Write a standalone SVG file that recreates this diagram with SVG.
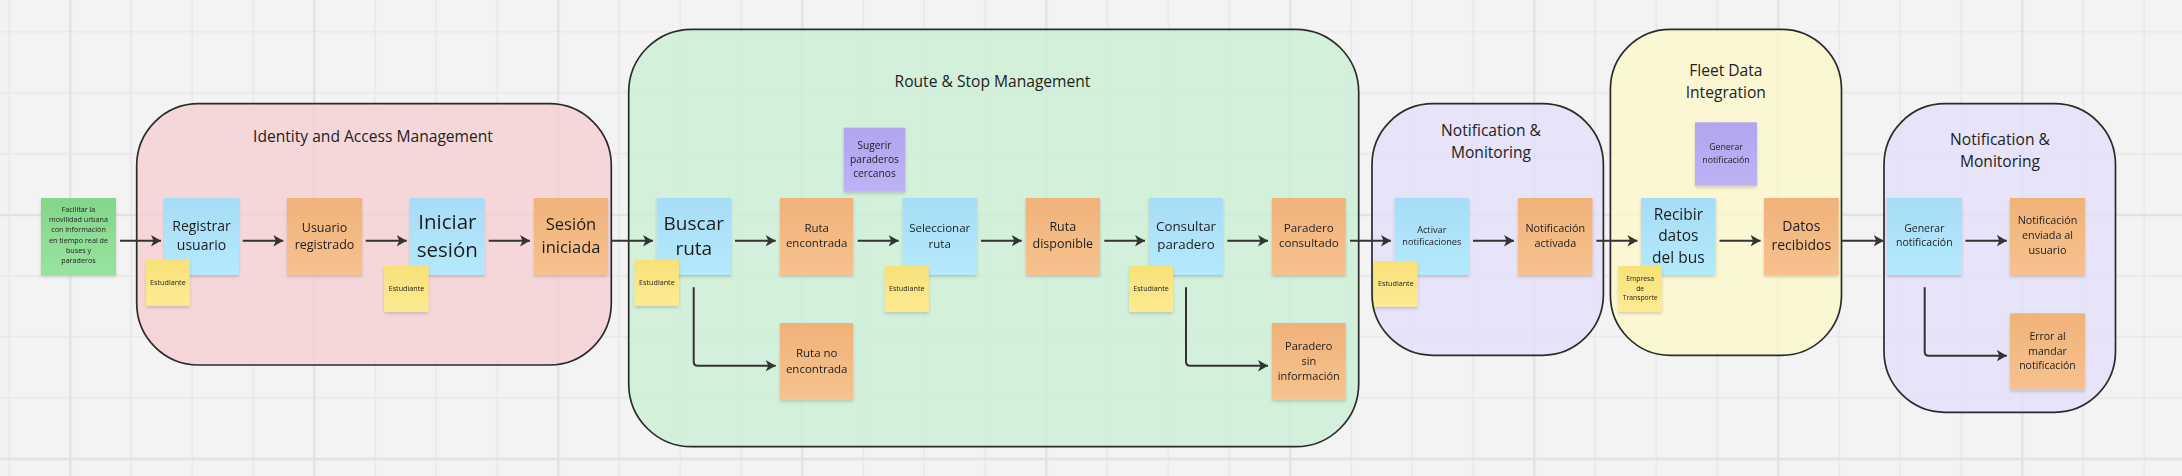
<svg xmlns="http://www.w3.org/2000/svg" width="2182" height="476" viewBox="0 0 2182 476">
<style>
text{font-family:"Open Sans","Noto Sans","Liberation Sans",sans-serif;fill:#1e1e1e;text-anchor:middle}
.ct{font-size:15.6px;fill:#222}
.box{stroke:#2b2b2b;stroke-width:1.7}
.st{filter:url(#sh)}
.cn{fill:none;stroke:#333;stroke-width:2;marker-end:url(#ah)}
.est{font-size:7.2px}
</style>
<defs>
<pattern id="gmin" x="-21.2" y="1.2" width="61" height="61" patternUnits="userSpaceOnUse"><path d="M30.5,0 V61 M0,30.5 H61" stroke="#e7e7e7" stroke-width="1.5" fill="none"/></pattern>
<pattern id="gmaj" x="-51.7" y="93" width="244" height="244" patternUnits="userSpaceOnUse"><path d="M122,0 V244 M0,122 H244" stroke="#e2e2e2" stroke-width="2.4" fill="none"/></pattern>
<linearGradient id="gb" x1="0" y1="0" x2="0" y2="1"><stop offset="0" stop-color="#a6dcf6"/><stop offset="1" stop-color="#b5e9fc"/></linearGradient>
<linearGradient id="go" x1="0" y1="0" x2="0" y2="1"><stop offset="0" stop-color="#f0b279"/><stop offset="1" stop-color="#f6c28f"/></linearGradient>
<linearGradient id="gy" x1="0" y1="0" x2="0" y2="1"><stop offset="0" stop-color="#f8e177"/><stop offset="1" stop-color="#fdeb93"/></linearGradient>
<linearGradient id="gg" x1="0" y1="0" x2="0" y2="1"><stop offset="0" stop-color="#83d689"/><stop offset="1" stop-color="#99e2a1"/></linearGradient>
<linearGradient id="gp" x1="0" y1="0" x2="0" y2="1"><stop offset="0" stop-color="#b1a5ef"/><stop offset="1" stop-color="#bcb3f6"/></linearGradient>
<filter id="sh" x="-20%" y="-20%" width="140%" height="150%"><feDropShadow dx="0" dy="2" stdDeviation="1.6" flood-color="#000" flood-opacity="0.16"/></filter>
<marker id="ah" markerUnits="userSpaceOnUse" markerWidth="12" markerHeight="12" refX="10" refY="6" orient="auto"><path d="M0,0.3 L10,6 L0,11.7 L2.6,6 z" fill="#333"/></marker>
</defs>
<rect width="2182" height="476" fill="#f3f3f3"/>
<rect width="2182" height="476" fill="url(#gmin)"/>
<rect width="2182" height="476" fill="url(#gmaj)"/>

<g id="containers">
<g id="c-identity">
<rect class="box" x="136.7" y="103.7" width="474.6" height="261.3" rx="62" fill="#f6d0d2" fill-opacity="0.8"/>
<text class="ct" x="373" y="141.5">Identity and Access Management</text>
</g>
<g id="c-route">
<rect class="box" x="628.7" y="29.3" width="730" height="417.4" rx="63" fill="#cbefd4" fill-opacity="0.8"/>
<text class="ct" x="992.5" y="86.5">Route &amp; Stop Management</text>
</g>
<g id="c-notif1">
<rect class="box" x="1372" y="103.7" width="231.4" height="251.6" rx="61" fill="#e3dff9" fill-opacity="0.8"/>
<text class="ct" x="1491"><tspan x="1491" y="135.7">Notification &amp;</tspan><tspan x="1491" y="157.7">Monitoring</tspan></text>
</g>
<g id="c-fleet">
<rect class="box" x="1610.4" y="29.3" width="231.1" height="326" rx="60" fill="#fdf7cb" fill-opacity="0.8"/>
<text class="ct" x="1725.8"><tspan x="1725.8" y="76">Fleet Data</tspan><tspan x="1725.8" y="97.7">Integration</tspan></text>
</g>
<g id="c-notif2">
<rect class="box" x="1884" y="103.7" width="231.5" height="308.6" rx="61" fill="#e3dff9" fill-opacity="0.8"/>
<text class="ct" x="2000"><tspan x="2000" y="145.4">Notification &amp;</tspan><tspan x="2000" y="167.4">Monitoring</tspan></text>
</g>
</g>

<g id="connectors">
<path class="cn" d="M120,240.7 H161"/>
<path class="cn" d="M242.7,240.7 H283.3"/>
<path class="cn" d="M365.7,240.7 H406.7"/>
<path class="cn" d="M488.7,240.7 H530"/>
<path class="cn" d="M612,240.7 H653"/>
<path class="cn" d="M735,240.7 H775.7"/>
<path class="cn" d="M857.7,240.7 H898.7"/>
<path class="cn" d="M981,240.7 H1021.7"/>
<path class="cn" d="M1104.3,240.7 H1145"/>
<path class="cn" d="M1227.3,240.7 H1268"/>
<path class="cn" d="M1350,240.7 H1391"/>
<path class="cn" d="M1473,240.7 H1514"/>
<path class="cn" d="M1596.4,240.7 H1637.4"/>
<path class="cn" d="M1719.5,240.7 H1760.6"/>
<path class="cn" d="M1841.5,240.7 H1883.7"/>
<path class="cn" d="M1965.4,240.7 H2006.8"/>
<path class="cn" d="M693.7,287.3 V361.7 Q693.7,365.7 697.7,365.7 H775.7"/>
<path class="cn" d="M1186,287.3 V361.7 Q1186,365.7 1190,365.7 H1268"/>
<path class="cn" d="M1924.7,287.3 V351.7 Q1924.7,355.7 1928.7,355.7 H2006.8"/>
</g>

<g id="n-goal" class="st"><rect x="41" y="198" width="75" height="77" fill="url(#gg)"/>
<text font-size="7.2"><tspan x="78.5" y="211.6">Facilitar la</tspan><tspan x="78.5" y="221.9">movilidad urbana</tspan><tspan x="78.5" y="232.3">con información</tspan><tspan x="78.5" y="242.6">en tiempo real de</tspan><tspan x="78.5" y="252.9">buses y</tspan><tspan x="78.5" y="263.3">paraderos</tspan></text></g>

<g id="n-registrar" class="st"><rect x="164" y="198" width="75" height="77" fill="url(#gb)"/>
<text font-size="14"><tspan x="201.5" y="231">Registrar</tspan><tspan x="201.5" y="250">usuario</tspan></text></g>
<g id="n-est1" class="st"><rect x="146" y="260" width="43.7" height="45.7" fill="url(#gy)"/><text class="est" x="167.9" y="284.6">Estudiante</text></g>

<g id="n-usuario-registrado" class="st"><rect x="287" y="198" width="75" height="77" fill="url(#go)"/>
<text font-size="12.5"><tspan x="324.5" y="231.5">Usuario</tspan><tspan x="324.5" y="248.5">registrado</tspan></text></g>

<g id="n-iniciar" class="st"><rect x="410" y="198" width="74.5" height="77" fill="url(#gb)"/>
<text font-size="20.5"><tspan x="447.3" y="229.3">Iniciar</tspan><tspan x="447.3" y="257.3">sesión</tspan></text></g>
<g id="n-est2" class="st"><rect x="384.3" y="266" width="44.3" height="45.7" fill="url(#gy)"/><text class="est" x="406.5" y="290.8">Estudiante</text></g>

<g id="n-sesion" class="st"><rect x="534" y="198" width="74" height="77" fill="url(#go)"/>
<text font-size="16.5"><tspan x="571" y="229.9">Sesión</tspan><tspan x="571" y="252.6">iniciada</tspan></text></g>

<g id="n-buscar" class="st"><rect x="656.7" y="198" width="74.3" height="77" fill="url(#gb)"/>
<text font-size="19"><tspan x="693.8" y="229.5">Buscar</tspan><tspan x="693.8" y="254.8">ruta</tspan></text></g>
<g id="n-est3" class="st"><rect x="634.7" y="260" width="44.3" height="45.7" fill="url(#gy)"/><text class="est" x="656.9" y="284.6">Estudiante</text></g>

<g id="n-ruta-encontrada" class="st"><rect x="780" y="198" width="73.3" height="77" fill="url(#go)"/>
<text font-size="11.5"><tspan x="816.7" y="231.7">Ruta</tspan><tspan x="816.7" y="247.3">encontrada</tspan></text></g>

<g id="n-sugerir" class="st"><rect x="843.7" y="127.7" width="61.6" height="64" fill="url(#gp)"/>
<text font-size="10.2"><tspan x="874.5" y="148.6">Sugerir</tspan><tspan x="874.5" y="162.9">paraderos</tspan><tspan x="874.5" y="176.9">cercanos</tspan></text></g>

<g id="n-seleccionar" class="st"><rect x="902.7" y="198" width="74" height="77" fill="url(#gb)"/>
<text font-size="11.5"><tspan x="939.7" y="231.7">Seleccionar</tspan><tspan x="939.7" y="247.7">ruta</tspan></text></g>
<g id="n-est4" class="st"><rect x="884.7" y="266" width="44" height="45.7" fill="url(#gy)"/><text class="est" x="906.7" y="290.8">Estudiante</text></g>

<g id="n-ruta-disponible" class="st"><rect x="1025.7" y="198" width="74.3" height="77" fill="url(#go)"/>
<text font-size="12.5"><tspan x="1062.8" y="231.4">Ruta</tspan><tspan x="1062.8" y="248.1">disponible</tspan></text></g>

<g id="n-consultar" class="st"><rect x="1149" y="198" width="74" height="77" fill="url(#gb)"/>
<text font-size="13.3"><tspan x="1186" y="231">Consultar</tspan><tspan x="1186" y="249">paradero</tspan></text></g>
<g id="n-est5" class="st"><rect x="1129" y="266" width="44" height="45.7" fill="url(#gy)"/><text class="est" x="1151" y="290.8">Estudiante</text></g>

<g id="n-paradero-consultado" class="st"><rect x="1272" y="198" width="73.7" height="77" fill="url(#go)"/>
<text font-size="11.6"><tspan x="1308.8" y="231.8">Paradero</tspan><tspan x="1308.8" y="247.4">consultado</tspan></text></g>

<g id="n-ruta-no-encontrada" class="st"><rect x="780" y="323" width="73.3" height="76.7" fill="url(#go)"/>
<text font-size="11.5"><tspan x="816.7" y="357">Ruta no</tspan><tspan x="816.7" y="373">encontrada</tspan></text></g>

<g id="n-paradero-sin" class="st"><rect x="1272" y="323" width="73.7" height="76.7" fill="url(#go)"/>
<text font-size="11"><tspan x="1308.8" y="350.2">Paradero</tspan><tspan x="1308.8" y="364.9">sin</tspan><tspan x="1308.8" y="379.6">información</tspan></text></g>

<g id="n-activar" class="st"><rect x="1394.7" y="198" width="74.3" height="77" fill="url(#gb)"/>
<text font-size="9.2"><tspan x="1431.8" y="232.6">Activar</tspan><tspan x="1431.8" y="244.6">notificaciones</tspan></text></g>
<g id="n-est6" class="st"><rect x="1374" y="261" width="43.7" height="45.7" fill="url(#gy)"/><text class="est" x="1395.9" y="285.8">Estudiante</text></g>

<g id="n-notif-activada" class="st"><rect x="1518" y="198" width="74.5" height="77" fill="url(#go)"/>
<text font-size="10.8"><tspan x="1555.3" y="231.5">Notificación</tspan><tspan x="1555.3" y="246.5">activada</tspan></text></g>

<g id="n-gen-notif-fleet" class="st"><rect x="1695" y="122.3" width="62" height="63.4" fill="url(#gp)"/>
<text font-size="8.8"><tspan x="1726" y="150.1">Generar</tspan><tspan x="1726" y="162.8">notificación</tspan></text></g>

<g id="n-recibir" class="st"><rect x="1641" y="198" width="74.6" height="77" fill="url(#gb)"/>
<text font-size="15.5"><tspan x="1678.3" y="219.9">Recibir</tspan><tspan x="1678.3" y="241.3">datos</tspan><tspan x="1678.3" y="262.6">del bus</tspan></text></g>
<g id="n-empresa" class="st"><rect x="1618.3" y="266" width="43.7" height="45.7" fill="url(#gy)"/>
<text font-size="6.8"><tspan x="1640.2" y="281.1">Empresa</tspan><tspan x="1640.2" y="290.7">de</tspan><tspan x="1640.2" y="300.1">Transporte</tspan></text></g>

<g id="n-datos-recibidos" class="st"><rect x="1764" y="198" width="74.7" height="77" fill="url(#go)"/>
<text font-size="14"><tspan x="1801.3" y="231">Datos</tspan><tspan x="1801.3" y="250">recibidos</tspan></text></g>

<g id="n-gen-notif" class="st"><rect x="1886.8" y="198" width="75" height="77" fill="url(#gb)"/>
<text font-size="10.5"><tspan x="1924.3" y="231.7">Generar</tspan><tspan x="1924.3" y="246.4">notificación</tspan></text></g>

<g id="n-notif-enviada" class="st"><rect x="2010" y="198" width="75" height="77" fill="url(#go)"/>
<text font-size="10.8"><tspan x="2047.5" y="224">Notificación</tspan><tspan x="2047.5" y="239">enviada al</tspan><tspan x="2047.5" y="253.7">usuario</tspan></text></g>

<g id="n-error" class="st"><rect x="2010" y="313.3" width="75" height="76.4" fill="url(#go)"/>
<text font-size="10.5"><tspan x="2047.5" y="339.7">Error al</tspan><tspan x="2047.5" y="354.7">mandar</tspan><tspan x="2047.5" y="369.4">notificación</tspan></text></g>
</svg>
